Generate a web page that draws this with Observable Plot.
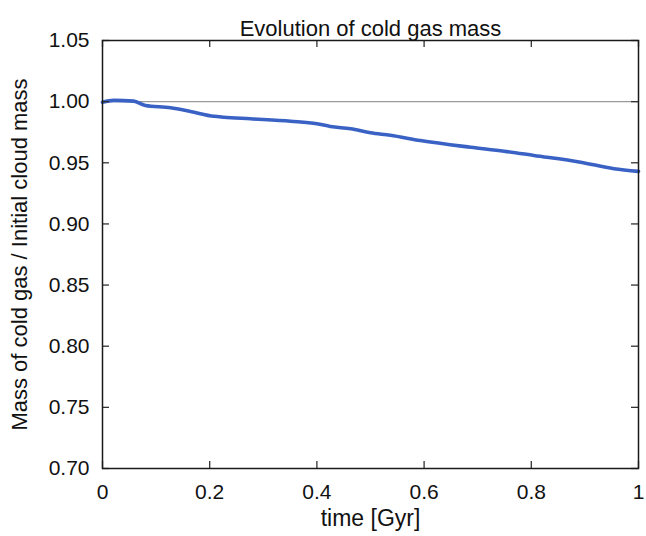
<!DOCTYPE html>
<html>
<head>
<meta charset="utf-8">
<script src="https://cdn.jsdelivr.net/npm/d3@7"></script>
<script src="https://cdn.jsdelivr.net/npm/@observablehq/plot@0.6"></script>
<style>
  html, body { margin: 0; padding: 0; background: #fff; }
</style>
</head>
<body>
<div id="chart"></div>
<script>
// Data
const times  = [0, 0.021, 0.058, 0.080, 0.127, 0.164, 0.208, 0.226, 0.276, 0.351, 0.400, 0.425, 0.463, 0.500, 0.537, 0.593, 0.687, 0.749, 0.805, 0.892, 0.954, 1.000];
const values = [0.9995, 1.001, 1.0004, 0.9968, 0.995, 0.992, 0.988, 0.9873, 0.986, 0.984, 0.982, 0.9797, 0.9778, 0.9745, 0.9725, 0.9682, 0.9627, 0.9595, 0.956, 0.9505, 0.9451, 0.943];
const xTicks = [0, 0.2, 0.4, 0.6, 0.8, 1];
const yTicks = [0.70, 0.75, 0.80, 0.85, 0.90, 0.95, 1.00, 1.05];
const referenceLevel = [1];
const title = "Evolution of cold gas mass";
const xLabel = "time [Gyr]";
const yLabel = "Mass of cold gas / Initial cloud mass";

const series = times.map((t, i) => ({t, v: values[i]}));

const W = 646, H = 536;
const mL = 102, mR = 8, mT = 40, mB = 68;
const innerW = W - mL - mR, innerH = H - mT - mB;
const tickLen = 7;

const chart = Plot.plot({
  width: W,
  height: H,
  marginLeft: mL,
  marginRight: mR,
  marginTop: mT,
  marginBottom: mB,
  style: {fontFamily: "'Liberation Sans', Arial, Helvetica, sans-serif", fontSize: "21px", color: "#111", background: "#fff", overflow: "visible"},
  x: {domain: [0, 1]},
  y: {domain: [0.70, 1.05]},
  marks: [
    Plot.ruleY(referenceLevel, {stroke: "#9a9a9a", strokeWidth: 1.3}),
    Plot.line(series, {x: "t", y: "v", stroke: "#3a62c5", strokeWidth: 3.6, curve: "monotone-x"}),
    // inward ticks on all four sides
    Plot.ruleX(xTicks, {x: d => d, insetTop: innerH - tickLen, stroke: "#333", strokeWidth: 1.3}),
    Plot.ruleX(xTicks, {x: d => d, insetBottom: innerH - tickLen, stroke: "#333", strokeWidth: 1.3}),
    Plot.ruleY(yTicks, {y: d => d, insetRight: innerW - tickLen, stroke: "#333", strokeWidth: 1.3}),
    Plot.ruleY(yTicks, {y: d => d, insetLeft: innerW - tickLen, stroke: "#333", strokeWidth: 1.3}),
    Plot.frame({stroke: "#1a1a1a", strokeWidth: 1.5}),
    Plot.axisX(xTicks, {tickSize: 0, tickPadding: 16, tickFormat: d3.format("~g"), label: null, fontSize: 21}),
    Plot.axisY(yTicks, {tickSize: 0, tickPadding: 13, tickFormat: d3.format(".2f"), label: null, fontSize: 21}),
    Plot.text([xLabel], {frameAnchor: "bottom", dy: 57, fontSize: 23, fill: "#111"}),
    Plot.text([yLabel], {frameAnchor: "left", textAnchor: "middle", dx: -83, rotate: -90, fontSize: 22, fill: "#111"}),
    Plot.text([title], {frameAnchor: "top", dy: -20, fontSize: 22, fill: "#111"})
  ]
});
document.getElementById("chart").appendChild(chart);
</script>
</body>
</html>
